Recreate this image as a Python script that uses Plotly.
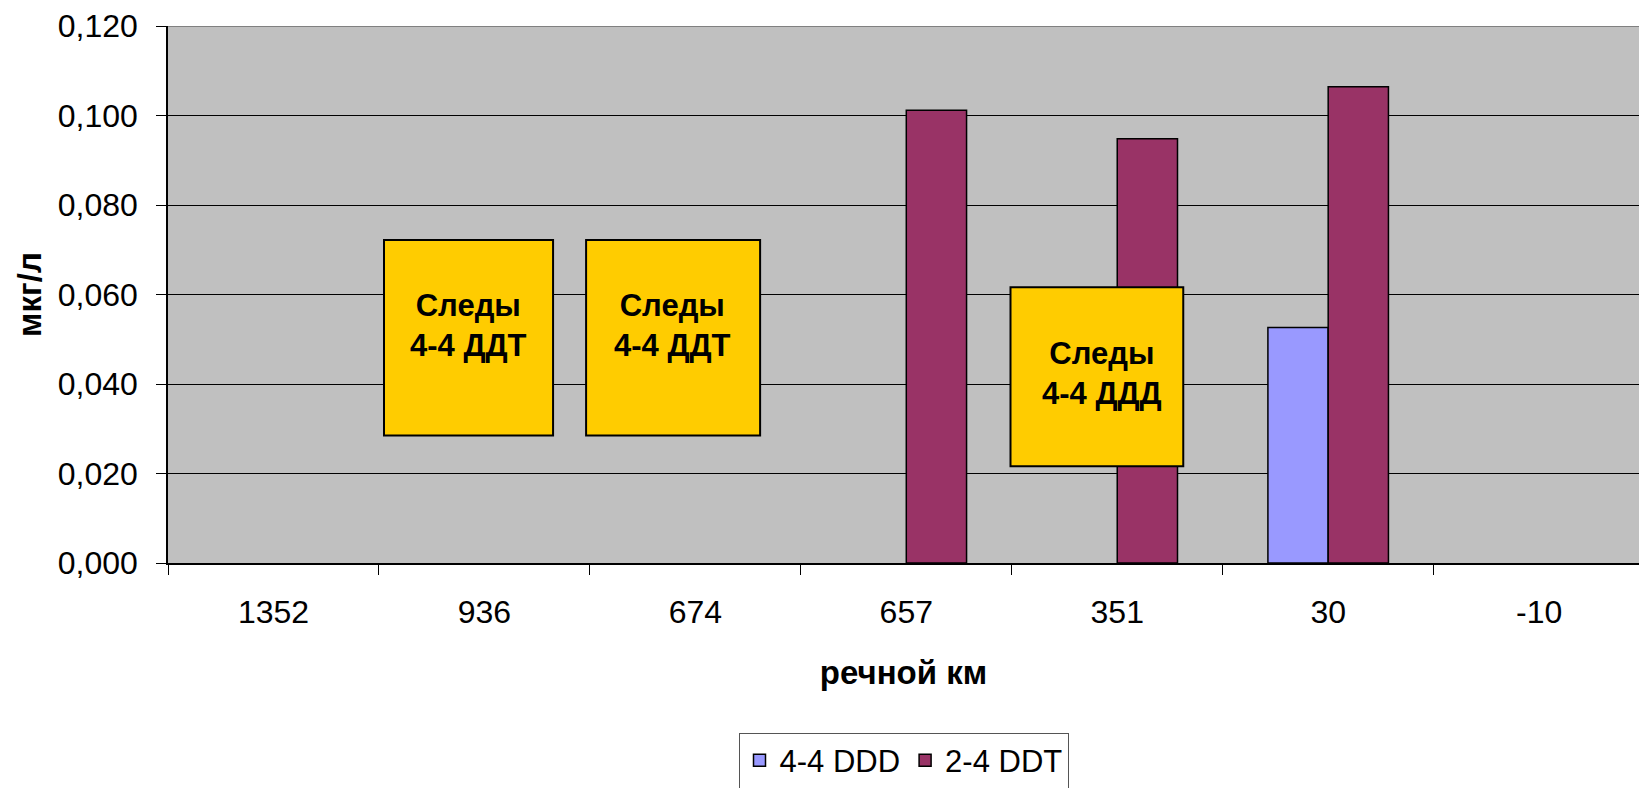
import plotly.graph_objects as go

# River kilometre stations (upstream -> downstream)
stations = ["1352", "936", "674", "657", "351", "30", "-10"]

# Concentrations, µg/l (None = not detected / no bar)
ddd_44 = [None, None, None, None, None, 0.0526, None]
ddt_24 = [None, None, None, 0.1012, 0.0948, 0.1064, None]

# Trace-level notes shown over the chart
notes = ["Следы<br>4-4 ДДТ", "Следы<br>4-4 ДДТ", "Следы<br>4-4 ДДД"]

y_ticks = [0.0, 0.02, 0.04, 0.06, 0.08, 0.10, 0.12]

FONT = "Arial, Liberation Sans, sans-serif"

fig = go.Figure()
fig.add_trace(go.Bar(
    name="4-4 DDD", x=stations, y=ddd_44,
    marker=dict(color="#9999FF", line=dict(color="#000000", width=1.5)),
))
fig.add_trace(go.Bar(
    name="2-4 DDT", x=stations, y=ddt_24,
    marker=dict(color="#993366", line=dict(color="#000000", width=1.5)),
))

# yellow note boxes (category-axis units on x, value units on y)
boxes = [
    (0.524, 1.3255, 0.0285, 0.0722),
    (1.482, 2.307, 0.0285, 0.0722),
    (3.494, 4.313, 0.0216, 0.0616),
]
text_pos = [(0.925, 0.0530), (1.893, 0.0530), (3.93, 0.0423)]

shapes = []
for x0, x1, y0, y1 in boxes:
    shapes.append(dict(type="rect", xref="x", yref="y", x0=x0, x1=x1, y0=y0, y1=y1,
                       fillcolor="#FFCC00", line=dict(color="#000000", width=2), layer="above"))
# grey frame line along the top of the plot area
shapes.append(dict(type="line", xref="paper", yref="y", x0=0, x1=1, y0=0.12, y1=0.12,
                   line=dict(color="#808080", width=2), layer="above"))

annotations = []
for (tx, ty), txt in zip(text_pos, notes):
    annotations.append(dict(x=tx, y=ty, xref="x", yref="y", text="<b>" + txt + "</b>",
                            showarrow=False, font=dict(family=FONT, size=31, color="#000000"),
                            align="center"))

fig.update_layout(
    width=1639, height=788,
    margin=dict(l=168, r=0, t=26, b=225, autoexpand=False),
    paper_bgcolor="#FFFFFF",
    plot_bgcolor="#C0C0C0",
    separators=", ",
    barmode="group",
    bargap=0.4286,
    bargroupgap=0,
    font=dict(family=FONT, size=32, color="#000000"),
    shapes=shapes,
    annotations=annotations,
    showlegend=True,
    legend=dict(
        orientation="h", x=0.5, xanchor="center", y=-0.3158, yanchor="top",
        font=dict(family=FONT, size=31, color="#000000"),
        bgcolor="#FFFFFF", bordercolor="#555555", borderwidth=1,
        traceorder="normal",
    ),
    xaxis=dict(
        type="category",
        range=[-0.5, 6.4735],
        showgrid=False,
        showline=True, linecolor="#000000", linewidth=1.5,
        ticks="outside", tickson="boundaries", ticklen=10, tickcolor="#000000", tickwidth=1,
        tickfont=dict(family=FONT, size=32, color="#000000"),
        ticklabelstandoff=20,
        title=dict(text="<b>речной км</b>", font=dict(family=FONT, size=33, color="#000000"),
                   standoff=32),
        automargin=False,
    ),
    yaxis=dict(
        range=[0, 0.12],
        tickvals=y_ticks,
        tickformat=".3f",
        showgrid=True, gridcolor="#000000", gridwidth=1,
        zeroline=False,
        showline=True, linecolor="#000000", linewidth=1.5,
        ticks="outside", ticklen=10, tickcolor="#000000", tickwidth=1,
        tickfont=dict(family=FONT, size=32, color="#000000"),
        ticklabelstandoff=12,
        title=dict(text="<b>мкг/л</b>", font=dict(family=FONT, size=33, color="#000000"),
                   standoff=6),
        automargin=False,
    ),
)

fig.write_html("out.html")
